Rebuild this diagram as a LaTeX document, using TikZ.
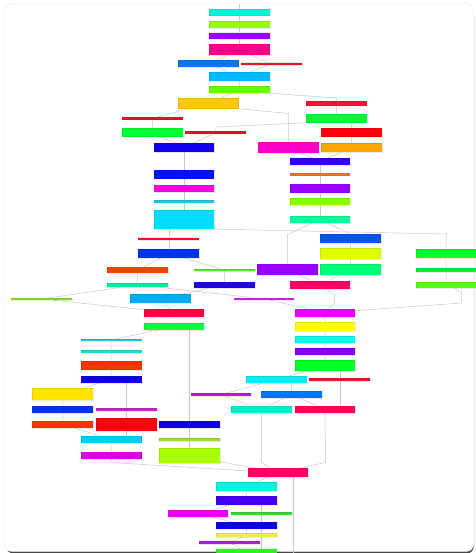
\documentclass[tikz,border=0pt]{standalone}
\usepackage{xcolor}
\usepackage{tikz}
\definecolor{tq}{RGB}{0, 245, 220}
\definecolor{lmA}{RGB}{153, 255, 0}
\definecolor{vio}{RGB}{153, 0, 255}
\definecolor{pnk}{RGB}{255, 0, 136}
\definecolor{az}{RGB}{0, 119, 245}
\definecolor{rdl}{RGB}{232, 20, 35}
\definecolor{sky}{RGB}{0, 187, 255}
\definecolor{lmB}{RGB}{102, 255, 0}
\definecolor{amb}{RGB}{255, 200, 0}
\definecolor{rdA}{RGB}{255, 17, 51}
\definecolor{grn}{RGB}{0, 255, 51}
\definecolor{rdB}{RGB}{255, 0, 17}
\definecolor{ind}{RGB}{17, 0, 238}
\definecolor{mag}{RGB}{255, 0, 204}
\definecolor{org}{RGB}{255, 165, 0}
\definecolor{bv}{RGB}{51, 0, 238}
\definecolor{bvB}{RGB}{34, 0, 238}
\definecolor{bvC}{RGB}{68, 0, 238}
\definecolor{orl}{RGB}{238, 119, 51}
\definecolor{lmC}{RGB}{136, 255, 0}
\definecolor{spr}{RGB}{0, 255, 153}
\definecolor{blu}{RGB}{0, 17, 255}
\definecolor{magB}{RGB}{255, 0, 221}
\definecolor{cyl}{RGB}{34, 200, 221}
\definecolor{tql}{RGB}{34, 221, 204}
\definecolor{cyn}{RGB}{0, 221, 255}
\definecolor{blB}{RGB}{0, 51, 238}
\definecolor{blC}{RGB}{0, 85, 238}
\definecolor{chr}{RGB}{221, 255, 0}
\definecolor{sprB}{RGB}{0, 255, 119}
\definecolor{crm}{RGB}{255, 0, 102}
\definecolor{grnl}{RGB}{0, 238, 51}
\definecolor{lmD}{RGB}{85, 255, 0}
\definecolor{ver}{RGB}{255, 68, 0}
\definecolor{grl}{RGB}{85, 238, 34}
\definecolor{sprl}{RGB}{0, 238, 153}
\definecolor{lml}{RGB}{136, 221, 34}
\definecolor{skB}{RGB}{0, 170, 255}
\definecolor{mgl}{RGB}{204, 34, 238}
\definecolor{rdC}{RGB}{255, 0, 68}
\definecolor{grnB}{RGB}{0, 255, 68}
\definecolor{mgB}{RGB}{238, 0, 255}
\definecolor{ylw}{RGB}{255, 255, 0}
\definecolor{cyB}{RGB}{0, 255, 238}
\definecolor{vioB}{RGB}{136, 0, 238}
\definecolor{grnC}{RGB}{0, 255, 34}
\definecolor{cyC}{RGB}{0, 238, 255}
\definecolor{trq}{RGB}{0, 238, 204}
\definecolor{rdD}{RGB}{255, 0, 85}
\definecolor{pul}{RGB}{170, 34, 215}
\definecolor{ver2}{RGB}{255, 51, 0}
\definecolor{gld}{RGB}{255, 230, 0}
\definecolor{mgl2}{RGB}{204, 34, 204}
\definecolor{skC}{RGB}{0, 204, 255}
\definecolor{mgC}{RGB}{221, 0, 238}
\definecolor{lml2}{RGB}{153, 221, 51}
\definecolor{lmE}{RGB}{170, 255, 0}
\definecolor{mgD}{RGB}{238, 0, 238}
\definecolor{grl2}{RGB}{51, 221, 51}
\definecolor{ylwl}{RGB}{238, 238, 68}
\definecolor{grnD}{RGB}{51, 238, 34}
\pgfdeclarelayer{card}
\pgfdeclarelayer{wires}
\pgfsetlayers{card,wires,main}

\begin{document}
\begin{tikzpicture}[
    x=1pt, y=-1pt,
    slab/.style={rectangle, draw=black, draw opacity=0.09, line width=0.3pt, inner sep=0pt, minimum width=60.7pt},
    wire/.style={draw=black!22, line width=0.5pt}
]
    \useasboundingbox (0,0) rectangle (475,553);

    % card
    \begin{pgfonlayer}{card}
    \fill[white] (0,0) rectangle (475,553);
    \fill[black!72, rounded corners=8pt] (6,8) rectangle (474,553.8);
    \filldraw[fill=white, draw=black!8, rounded corners=8pt] (4,3.5) rectangle (474,551.5);
    \end{pgfonlayer}

    % upper trunk
    \node[slab, fill=tq,   minimum height=6.7pt]  (b1)  at (239.5,12.3) {};
    \node[slab, fill=lmA,  minimum height=7pt]    (b2)  at (239.5,24.2) {};
    \node[slab, fill=vio,  minimum height=6.7pt]  (b3)  at (239.5,36) {};
    \node[slab, fill=pnk,  minimum height=11pt]   (b4)  at (239.5,49.8) {};
    \node[slab, fill=az,   minimum height=7pt]    (b5)  at (208.2,63.8) {};
    \node[slab, fill=rdl,  minimum height=2.3pt]  (b6)  at (271.3,63.8) {};
    \node[slab, fill=sky,  minimum height=9pt]    (b7)  at (239.5,76.5) {};
    \node[slab, fill=lmB,  minimum height=6.7pt]  (b8)  at (239.5,89.7) {};
    \node[slab, fill=amb,  minimum height=10.7pt] (b9)  at (208.2,103.3) {};
    \node[slab, fill=rdA,  minimum height=4.3pt]  (b10) at (336.3,103.5) {};
    \node[slab, fill=rdl,  minimum height=2.3pt]  (b11) at (152.3,118.5) {};
    \node[slab, fill=grn,  minimum height=8.3pt]  (b12) at (336.3,118.5) {};
    \node[slab, fill=grn,  minimum height=8.7pt]  (b13) at (152.3,132.3) {};
    \node[slab, fill=rdl,  minimum height=2.3pt]  (b14) at (215.7,132.5) {};
    \node[slab, fill=rdB,  minimum height=8.7pt]  (b15) at (351.5,132.3) {};
    \node[slab, fill=ind,  minimum height=8.7pt]  (b16) at (184,147.7) {};
    \node[slab, fill=mag,  minimum height=10.7pt] (b17) at (288.7,147.7) {};
    \node[slab, fill=org,  minimum height=9.3pt]  (b18) at (351.5,147.7) {};
    \node[slab, fill=bv,   minimum height=6.7pt]  (b19) at (320,161.7) {};
    \node[slab, fill=orl,  minimum height=2.3pt]  (b20) at (320,174.5) {};
    \node[slab, fill=vio,  minimum height=8.7pt]  (b21) at (320,188.3) {};
    \node[slab, fill=lmC,  minimum height=6.7pt]  (b22) at (320,201.3) {};
    \node[slab, fill=spr,  minimum height=7pt]    (b23) at (320,219.5) {};
    \node[slab, fill=blu,  minimum height=8.7pt]  (b24) at (184,174.3) {};
    \node[slab, fill=magB, minimum height=7pt]    (b25) at (184,188.5) {};
    \node[slab, fill=cyl,  minimum height=2.7pt]  (b26) at (184,201.3) {};
    \node[slab, fill=cyn,  minimum height=19pt]   (b27) at (184,219.5) {};

    % middle band
    \node[slab, fill=rdl,  minimum height=2.5pt]  (b28) at (168.8,238.8) {};
    \node[slab, fill=blB,  minimum height=9pt]    (b29) at (168.8,253.8) {};
    \node[slab, fill=blC,  minimum height=9pt]    (b30) at (350.7,238.8) {};
    \node[slab, fill=chr,  minimum height=11pt]   (b31) at (350.7,253.8) {};
    \node[slab, fill=sprB, minimum height=11pt]   (b32) at (350.7,269.8) {};
    \node[slab, fill=vio,  minimum height=11pt]   (b33) at (287.3,269.8) {};
    \node[slab, fill=crm,  minimum height=8.7pt]  (b34) at (320,285) {};
    \node[slab, fill=grn,  minimum height=9pt]    (b35) at (446,253.8) {};
    \node[slab, fill=grnl, minimum height=3.7pt]  (b36) at (446,270.2) {};
    \node[slab, fill=lmD,  minimum height=6.7pt]  (b37) at (446,285) {};
    \node[slab, fill=ver,  minimum height=6.7pt]  (b38) at (137.3,270) {};
    \node[slab, fill=grl,  minimum height=2.3pt]  (b39) at (224.3,269.8) {};
    \node[slab, fill=sprl, minimum height=4.7pt]  (b40) at (137.3,285) {};
    \node[slab, fill=bvB,  minimum height=6.7pt]  (b41) at (224.3,285) {};
    \node[slab, fill=lml,  minimum height=2pt]    (b42) at (41.3,299) {};
    \node[slab, fill=skB,  minimum height=9pt]    (b43) at (160.2,298.8) {};
    \node[slab, fill=mgl,  minimum height=2.3pt]  (b44) at (264,298.8) {};
    \node[slab, fill=rdC,  minimum height=8.3pt]  (b45) at (174,312.8) {};
    \node[slab, fill=grnB, minimum height=6.7pt]  (b46) at (174,326.7) {};
    \node[slab, fill=mgB,  minimum height=8.3pt]  (b47) at (325,312.8) {};
    \node[slab, fill=ylw,  minimum height=8.7pt]  (b48) at (325,326.7) {};
    \node[slab, fill=cyB,  minimum height=7.3pt]  (b49) at (325,339.7) {};
    \node[slab, fill=vioB, minimum height=6.7pt]  (b50) at (325,351.7) {};
    \node[slab, fill=grnC, minimum height=11pt]   (b51) at (325,365.5) {};
    \node[slab, fill=cyC,  minimum height=7.3pt]  (b52) at (276.3,379.7) {};
    \node[slab, fill=rdl,  minimum height=2.3pt]  (b53) at (339.8,379.5) {};
    \node[slab, fill=az,   minimum height=7pt]    (b54) at (291.7,394.5) {};
    \node[slab, fill=trq,  minimum height=7pt]    (b55) at (261.5,409.5) {};
    \node[slab, fill=rdD,  minimum height=7pt]    (b56) at (325,409.5) {};
    \node[slab, fill=pul,  minimum height=2.3pt]  (b57) at (221,394.5) {};

    % lower left
    \node[slab, fill=cyl,  minimum height=2pt]    (b58) at (111.2,340) {};
    \node[slab, fill=tql,  minimum height=2.3pt]  (b59) at (111.2,351.5) {};
    \node[slab, fill=ver2, minimum height=8.7pt]  (b60) at (111.2,365.3) {};
    \node[slab, fill=ind,  minimum height=6.3pt]  (b61) at (111.2,379.5) {};
    \node[slab, fill=gld,  minimum height=12.7pt] (b62) at (62.8,394) {};
    \node[slab, fill=blB,  minimum height=6.3pt]  (b63) at (62.8,409.5) {};
    \node[slab, fill=mgl2, minimum height=2.3pt]  (b64) at (126.3,409.5) {};
    \node[slab, fill=ver2, minimum height=7pt]    (b65) at (62.8,424.5) {};
    \node[slab, fill=rdB,  minimum height=13pt]   (b66) at (126.3,424.5) {};
    \node[slab, fill=ind,  minimum height=6.7pt]  (b67) at (189.3,424.7) {};
    \node[slab, fill=skC,  minimum height=7pt]    (b68) at (111.2,439.5) {};
    \node[slab, fill=mgC,  minimum height=7pt]    (b69) at (111.2,455.5) {};
    \node[slab, fill=lml2, minimum height=2.7pt]  (b70) at (189.3,439.3) {};
    \node[slab, fill=lmE,  minimum height=15.3pt] (b71) at (189.3,455.7) {};

    % bottom trunk
    \node[slab, fill=crm,  minimum height=9pt]    (b72) at (278,472.8) {};
    \node[slab, fill=tq,   minimum height=9.3pt]  (b73) at (246.3,486.7) {};
    \node[slab, fill=bvC,  minimum height=9pt]    (b74) at (246.3,500.8) {};
    \node[slab, fill=mgD,  minimum height=6.7pt]  (b75) at (198,513.7) {};
    \node[slab, fill=grl2, minimum height=2.7pt]  (b76) at (261.5,513.7) {};
    \node[slab, fill=ind,  minimum height=7pt]    (b77) at (246.3,525.5) {};
    \node[slab, fill=ylwl, minimum height=3.3pt]  (b78) at (246.3,535) {};
    \node[slab, fill=pul,  minimum height=2.3pt]  (b79) at (229.7,542.5) {};
    \node[slab, fill=grnD, minimum height=7pt]    (b80) at (246.3,552) {};

    % bends
    \coordinate (top) at (239.5,4);
    \coordinate (k0)  at (336.3,98);
    \coordinate (k1)  at (288.5,113.5);
    \coordinate (k2)  at (216,127);
    \coordinate (k3)  at (446.3,234);
    \coordinate (k4)  at (287.5,234.5);
    \coordinate (k5)  at (350.5,234.5);
    \coordinate (k6)  at (461.5,292);
    \coordinate (k7)  at (461.5,303);
    \coordinate (k8)  at (334.3,294);
    \coordinate (k9)  at (334.3,303);
    \coordinate (k10) at (261.5,462.5);
    \coordinate (k11) at (325.5,462.5);
    \coordinate (k12) at (110.7,462.5);
    \coordinate (k13) at (293.3,560);
    \coordinate (k14) at (261.5,560);

    \begin{pgfonlayer}{wires}
    \draw[wire] (top) -- (b1) -- (b2) -- (b3) -- (b4);
    \draw[wire] (b4) -- (b5) -- (b7);
    \draw[wire] (b4) -- (b6) -- (b7) -- (b8);
    \draw[wire] (b8) -- (b9);
    \draw[wire] (b8.south east) -- (k0) -- (b10) -- (b12);
    \draw[wire] (b12.south -| b15) -- (b15) -- (b18) -- (b19);
    \draw[wire] (b9) -- (b11) -- (b13) -- (b16);
    \draw[wire] (b9.south east) -- (k1) -- (b17) -- (b19);
    \draw[wire] (b12.south west) -- (k2) -- (b14) -- (b16);
    \draw[wire] (b16) -- (b24) -- (b25) -- (b26) -- (b27);
    \draw[wire] (b19) -- (b20) -- (b21) -- (b22) -- (b23);
    \draw[wire] (b27.south -| b28) -- (b28) -- (b29);
    \draw[wire] (b27.south east) -- (k3) -- (b35) -- (b36) -- (b37);
    \draw[wire] (b23) -- (k4) -- (b33) -- (b34);
    \draw[wire] (b23) -- (k5) -- (b30) -- (b31) -- (b32) -- (b34);
    \draw[wire] (b29) -- (b38) -- (b40);
    \draw[wire] (b29) -- (b39) -- (b41);
    \draw[wire] (b40) -- (b42) -- (b45);
    \draw[wire] (b41) -- (b43) -- (b45);
    \draw[wire] (b40) -- (b44) -- (b47);
    \draw[wire] (b34) -- (k8) -- (k9) -- (b47);
    \draw[wire] (b37) -- (k6) -- (k7) -- (b47);
    \draw[wire] (b45) -- (b46) -- (b58) -- (b59) -- (b60) -- (b61);
    \draw[wire] (b46.south -| b67) -- (b67) -- (b70) -- (b71);
    \draw[wire] (b61) -- (b62) -- (b63) -- (b65) -- (b68);
    \draw[wire] (b61.south -| b64) -- (b64) -- (b66) -- (b66 |- b68.north);
    \draw[wire] (b68) -- (b69) -- (k12) -- (b72);
    \draw[wire] (b71) -- (b72);
    \draw[wire] (b47) -- (b48) -- (b49) -- (b50) -- (b51) -- (b52);
    \draw[wire] (b51.south -| b53) -- (b53) -- (b53 |- b56.north);
    \draw[wire] (b52.south -| b54) -- (b54) -- (b55);
    \draw[wire] (b52) -- (b57) -- (b55);
    \draw[wire] (b54) -- (b56);
    \draw[wire] (b55) -- (k10) -- (b72);
    \draw[wire] (b56) -- (k11) -- (b72);
    \draw[wire] (b72) -- (b73) -- (b74) -- (b75) -- (b77) -- (b78) -- (b79) -- (b80);
    \draw[wire] (b72.south -| k13) -- (k13);
    \draw[wire] (b74.south -| b76) -- (b76) -- (k14);
    \end{pgfonlayer}
\end{tikzpicture}
\end{document}
